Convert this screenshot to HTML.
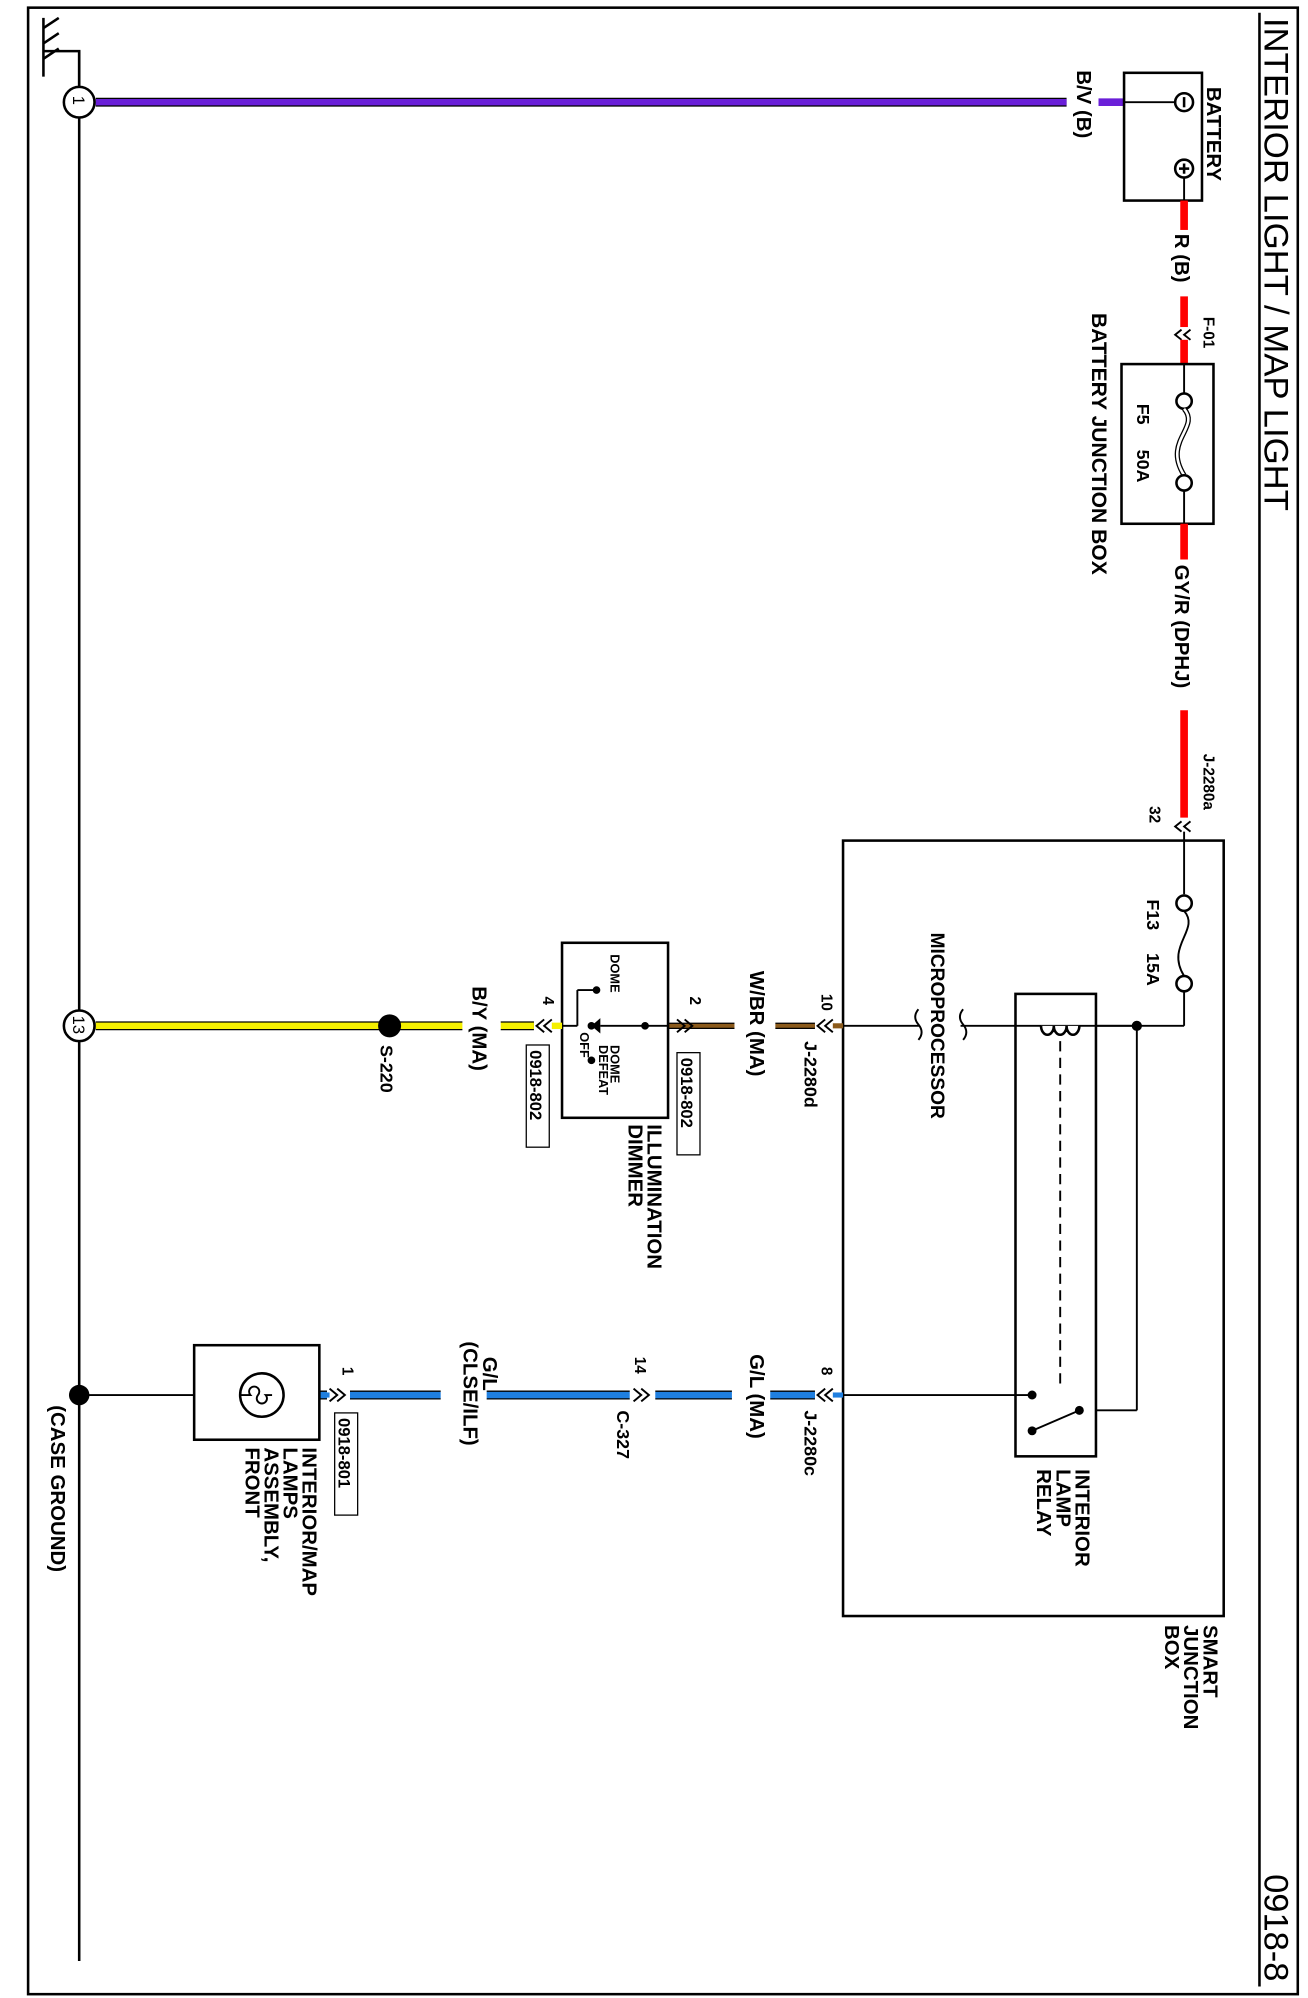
<!DOCTYPE html>
<html><head><meta charset="utf-8"><style>
html,body{margin:0;padding:0;background:#fff;}
svg{display:block;}
text{font-family:"Liberation Sans",Arial,sans-serif;font-weight:bold;fill:#000;}
</style></head><body>
<svg width="1308" height="1998" viewBox="0 0 1024 1564" preserveAspectRatio="none" xmlns="http://www.w3.org/2000/svg">
<rect x="22" y="6" width="994" height="1555" fill="none" stroke="#000" stroke-width="2"/>
<!-- title -->
<text transform="translate(990,14) rotate(90)" font-size="27" style="font-weight:normal" textLength="386" lengthAdjust="spacingAndGlyphs">INTERIOR LIGHT / MAP LIGHT</text>
<line x1="986" y1="10" x2="986" y2="1555" stroke="#000" stroke-width="2"/>
<text transform="translate(990,1467) rotate(90)" font-size="27" style="font-weight:normal">0918-8</text>

<!-- ground bus -->
<line x1="62" y1="40" x2="62" y2="1535" stroke="#000" stroke-width="2"/>
<polyline points="62,68 62,40 34,40" fill="none" stroke="#000" stroke-width="2"/>
<line x1="34" y1="14" x2="34" y2="60" stroke="#000" stroke-width="2"/>
<line x1="34" y1="22" x2="46" y2="14" stroke="#000" stroke-width="2"/>
<line x1="34" y1="34" x2="46" y2="26" stroke="#000" stroke-width="2"/>
<line x1="34" y1="46" x2="46" y2="38" stroke="#000" stroke-width="2"/>

<!-- purple wire -->
<line x1="75" y1="80" x2="835" y2="80" stroke="#000" stroke-width="7"/>
<line x1="75" y1="80" x2="835" y2="80" stroke="#6a1fd8" stroke-width="5"/>
<line x1="860" y1="80" x2="880" y2="80" stroke="#6a1fd8" stroke-width="6"/>
<circle cx="62" cy="80" r="12" fill="#fff" stroke="#000" stroke-width="2"/>
<text transform="translate(57,75) rotate(90)" font-size="13" style="font-weight:normal">1</text>
<text transform="translate(843,55) rotate(90)" font-size="16">B/V (B)</text>

<!-- battery -->
<rect x="880" y="57" width="61" height="100" fill="#fff" stroke="#000" stroke-width="2"/>
<line x1="880" y1="80" x2="920" y2="80" stroke="#000" stroke-width="1.5"/>
<circle cx="927" cy="80" r="7" fill="#fff" stroke="#000" stroke-width="2"/>
<line x1="927" y1="76" x2="927" y2="84" stroke="#000" stroke-width="2"/>
<circle cx="927" cy="132" r="7" fill="#fff" stroke="#000" stroke-width="2"/>
<line x1="923" y1="132" x2="931" y2="132" stroke="#000" stroke-width="2"/>
<line x1="927" y1="128" x2="927" y2="136" stroke="#000" stroke-width="2"/>
<line x1="927" y1="139" x2="927" y2="157" stroke="#000" stroke-width="1.5"/>
<text transform="translate(945,68) rotate(90)" font-size="16">BATTERY</text>

<!-- red wire -->
<line x1="927" y1="157" x2="927" y2="180" stroke="#f00" stroke-width="6"/>
<line x1="927" y1="232" x2="927" y2="256" stroke="#f00" stroke-width="6"/>
<text transform="translate(920,183) rotate(90)" font-size="16">R (B)</text>
<text transform="translate(942,248) rotate(90)" font-size="12">F-01</text>
<path d="M925,258 l-5,4 l5,4 M932,258 l-5,4 l5,4" fill="none" stroke="#000" stroke-width="1.5"/>
<line x1="927" y1="266" x2="927" y2="285" stroke="#f00" stroke-width="6"/>

<!-- battery junction box -->
<rect x="878" y="285" width="72" height="125" fill="#fff" stroke="#000" stroke-width="2"/>
<line x1="927" y1="285" x2="927" y2="308" stroke="#000" stroke-width="1.5"/>
<circle cx="927" cy="314" r="6" fill="#fff" stroke="#000" stroke-width="2"/>
<path d="M927,320 C940,335 910,345 927,372" fill="none" stroke="#000" stroke-width="4"/>
<path d="M927,320 C940,335 910,345 927,372" fill="none" stroke="#fff" stroke-width="2"/>
<circle cx="927" cy="378" r="6" fill="#fff" stroke="#000" stroke-width="2"/>
<line x1="927" y1="384" x2="927" y2="410" stroke="#000" stroke-width="1.5"/>
<text transform="translate(890,316) rotate(90)" font-size="14">F5</text>
<text transform="translate(890,352) rotate(90)" font-size="14">50A</text>
<text transform="translate(855,245) rotate(90)" font-size="16.5">BATTERY JUNCTION BOX</text>

<!-- GY/R wire -->
<line x1="927" y1="410" x2="927" y2="438" stroke="#f00" stroke-width="6"/>
<line x1="927" y1="556" x2="927" y2="640" stroke="#f00" stroke-width="6"/>
<text transform="translate(920,442) rotate(90)" font-size="16">GY/R (DPHJ)</text>
<text transform="translate(942,590) rotate(90)" font-size="12">J-2280a</text>
<text transform="translate(900,631) rotate(90)" font-size="12">32</text>
<path d="M925,643 l-5,4 l5,4 M932,643 l-5,4 l5,4" fill="none" stroke="#000" stroke-width="1.5"/>
<line x1="927" y1="651" x2="927" y2="700" stroke="#000" stroke-width="1.5"/>

<!-- smart junction box -->
<rect x="660" y="658" width="298" height="607" fill="none" stroke="#000" stroke-width="2"/>
<text transform="translate(942,1272) rotate(90)" font-size="16">SMART</text>
<text transform="translate(927,1272) rotate(90)" font-size="16">JUNCTION</text>
<text transform="translate(912,1272) rotate(90)" font-size="16">BOX</text>
<!-- F13 -->
<circle cx="927" cy="707" r="6" fill="#fff" stroke="#000" stroke-width="2"/>
<path d="M927,713 C940,728 912,740 927,764" fill="none" stroke="#000" stroke-width="1.5"/>
<circle cx="927" cy="770" r="6" fill="#fff" stroke="#000" stroke-width="2"/>
<line x1="927" y1="776" x2="927" y2="803" stroke="#000" stroke-width="1.5"/>
<text transform="translate(898,704) rotate(90)" font-size="14">F13</text>
<text transform="translate(898,746) rotate(90)" font-size="14">15A</text>
<line x1="927" y1="803" x2="752" y2="803" stroke="#000" stroke-width="1.5"/>
<line x1="720" y1="803" x2="660" y2="803" stroke="#000" stroke-width="1.5"/>
<circle cx="890" cy="803" r="4" fill="#000"/>
<line x1="890" y1="803" x2="890" y2="1104" stroke="#000" stroke-width="1.5"/>
<line x1="890" y1="1104" x2="845" y2="1104" stroke="#000" stroke-width="1.5"/>
<!-- microprocessor squiggle -->
<path d="M719,790 q-5,6 0,12 q5,6 0,12 M754,790 q-5,6 0,12 q5,6 0,12" fill="none" stroke="#000" stroke-width="1.5"/>
<text transform="translate(729,730) rotate(90)" font-size="15">MICROPROCESSOR</text>
<!-- relay -->
<rect x="795" y="778" width="63" height="362" fill="#fff" stroke="#000" stroke-width="2"/>
<line x1="795" y1="803" x2="890" y2="803" stroke="#000" stroke-width="1.5"/>
<path d="M815,803 a5,7 0 0 0 10,0 a5,7 0 0 0 10,0 a5,7 0 0 0 10,0" fill="#fff" stroke="#000" stroke-width="2"/>
<line x1="830" y1="815" x2="830" y2="1085" stroke="#000" stroke-width="1.5" stroke-dasharray="8,5"/>
<circle cx="808" cy="1092" r="3.5" fill="#000"/>
<circle cx="808" cy="1120" r="3.5" fill="#000"/>
<circle cx="845" cy="1104" r="3.5" fill="#000"/>
<line x1="808" y1="1120" x2="845" y2="1104" stroke="#000" stroke-width="1.5"/>
<text transform="translate(842,1150) rotate(90)" font-size="16">INTERIOR</text>
<text transform="translate(827,1150) rotate(90)" font-size="16">LAMP</text>
<text transform="translate(812,1150) rotate(90)" font-size="16">RELAY</text>

<!-- W/BR wire -->
<path d="M652,798 l-6,5 l6,5 M646,798 l-6,5 l6,5" fill="none" stroke="#000" stroke-width="1.5"/>
<line x1="652" y1="803" x2="660" y2="803" stroke="#8b5a1b" stroke-width="4"/>
<text transform="translate(643,778) rotate(90)" font-size="12">10</text>
<text transform="translate(630,815) rotate(90)" font-size="14">J-2280d</text>
<line x1="523" y1="803" x2="638" y2="803" stroke="#000" stroke-width="5"/>
<line x1="523" y1="803" x2="638" y2="803" stroke="#8b5a1b" stroke-width="3"/>
<rect x="575" y="797" width="32" height="12" fill="#fff"/>
<text transform="translate(587,760) rotate(90)" font-size="16">W/BR (MA)</text>
<path d="M530,798 l6,5 l-6,5 M536,798 l6,5 l-6,5" fill="none" stroke="#000" stroke-width="1.5"/>
<text transform="translate(540,780) rotate(90)" font-size="12">2</text>
<rect x="530" y="824" width="18" height="80" fill="#fff" stroke="#000" stroke-width="1"/>
<text transform="translate(533,828) rotate(90)" font-size="13">0918-802</text>
<!-- dimmer -->
<rect x="440" y="738" width="83" height="137" fill="#fff" stroke="#000" stroke-width="2"/>
<line x1="523" y1="803" x2="505" y2="803" stroke="#000" stroke-width="1.5"/>
<circle cx="505" cy="803" r="3" fill="#000"/>
<circle cx="467" cy="775" r="3" fill="#000"/>
<circle cx="463" cy="803" r="3" fill="#000"/>
<circle cx="463" cy="830" r="3" fill="#000"/>
<line x1="505" y1="803" x2="470" y2="803" stroke="#000" stroke-width="1.5"/>
<path d="M470,797 l-7,6 l7,6" fill="#000"/>
<line x1="467" y1="775" x2="452" y2="775" stroke="#000" stroke-width="1.5"/>
<line x1="452" y1="775" x2="452" y2="803" stroke="#000" stroke-width="1.5"/>
<line x1="452" y1="803" x2="440" y2="803" stroke="#000" stroke-width="1.5"/>
<text transform="translate(478,747) rotate(90)" font-size="10">DOME</text>
<text transform="translate(478,818) rotate(90)" font-size="10">DOME</text>
<text transform="translate(469,818) rotate(90)" font-size="10">DEFEAT</text>
<text transform="translate(454,808) rotate(90)" font-size="10">OFF</text>
<text transform="translate(507,880) rotate(90)" font-size="16">ILLUMINATION</text>
<text transform="translate(492,880) rotate(90)" font-size="16">DIMMER</text>
<!-- B/Y wire -->
<path d="M426,798 l-6,5 l6,5 M432,798 l-6,5 l6,5" fill="none" stroke="#000" stroke-width="1.5"/>
<text transform="translate(425,780) rotate(90)" font-size="12">4</text>
<rect x="412" y="818" width="18" height="80" fill="#fff" stroke="#000" stroke-width="1"/>
<text transform="translate(415,822) rotate(90)" font-size="13">0918-802</text>
<line x1="75" y1="803" x2="418" y2="803" stroke="#000" stroke-width="7"/>
<line x1="75" y1="803" x2="418" y2="803" stroke="#f5f000" stroke-width="5"/>
<rect x="362" y="797" width="30" height="12" fill="#fff"/>
<line x1="432" y1="803" x2="440" y2="803" stroke="#f5f000" stroke-width="5"/>
<text transform="translate(370,772) rotate(90)" font-size="16">B/Y (MA)</text>
<circle cx="305" cy="803" r="9" fill="#000"/>
<text transform="translate(298,818) rotate(90)" font-size="14">S-220</text>
<circle cx="62" cy="803" r="12" fill="#fff" stroke="#000" stroke-width="2"/>
<text transform="translate(57,795) rotate(90)" font-size="13" style="font-weight:normal">13</text>

<!-- G/L wire -->
<path d="M652,1087 l-6,5 l6,5 M646,1087 l-6,5 l6,5" fill="none" stroke="#000" stroke-width="1.5"/>
<line x1="652" y1="1092" x2="660" y2="1092" stroke="#1f7fe0" stroke-width="4"/>
<text transform="translate(643,1070) rotate(90)" font-size="12">8</text>
<text transform="translate(630,1104) rotate(90)" font-size="14">J-2280c</text>
<line x1="660" y1="1092" x2="808" y2="1092" stroke="#000" stroke-width="1.5"/>
<line x1="250" y1="1092" x2="638" y2="1092" stroke="#000" stroke-width="7"/>
<line x1="250" y1="1092" x2="638" y2="1092" stroke="#1f7fe0" stroke-width="5"/>
<rect x="573" y="1086" width="30" height="12" fill="#fff"/>
<rect x="345" y="1086" width="36" height="12" fill="#fff"/>
<text transform="translate(587,1060) rotate(90)" font-size="16">G/L (MA)</text>
<rect x="493" y="1086" width="20" height="12" fill="#fff"/>
<path d="M496,1087 l6,5 l-6,5 M502,1087 l6,5 l-6,5" fill="none" stroke="#000" stroke-width="1.5"/>
<text transform="translate(497,1062) rotate(90)" font-size="12">14</text>
<text transform="translate(483,1104) rotate(90)" font-size="14">C-327</text>
<text transform="translate(378,1062) rotate(90)" font-size="16">G/L</text>
<text transform="translate(363,1050) rotate(90)" font-size="16">(CLSE/ILF)</text>
<rect x="256" y="1086" width="18" height="12" fill="#fff"/>
<line x1="250" y1="1092" x2="258" y2="1092" stroke="#1f7fe0" stroke-width="4"/>
<path d="M258,1087 l6,5 l-6,5 M264,1087 l6,5 l-6,5" fill="none" stroke="#000" stroke-width="1.5"/>
<text transform="translate(268,1070) rotate(90)" font-size="12">1</text>
<rect x="262" y="1106" width="18" height="80" fill="#fff" stroke="#000" stroke-width="1"/>
<text transform="translate(265,1110) rotate(90)" font-size="13">0918-801</text>
<!-- lamp -->
<rect x="152" y="1053" width="98" height="74" fill="#fff" stroke="#000" stroke-width="2"/>
<circle cx="205" cy="1092" r="17" fill="#fff" stroke="#000" stroke-width="2"/>
<path d="M188,1092 h8 a4,4 0 1 1 6,0 a4,4 0 1 0 6,0 h5" fill="none" stroke="#000" stroke-width="1.5"/>
<line x1="152" y1="1092" x2="62" y2="1092" stroke="#000" stroke-width="1.5"/>
<text transform="translate(237,1133) rotate(90)" font-size="16">INTERIOR/MAP</text>
<text transform="translate(222,1133) rotate(90)" font-size="16">LAMPS</text>
<text transform="translate(207,1133) rotate(90)" font-size="16">ASSEMBLY,</text>
<text transform="translate(192,1133) rotate(90)" font-size="16">FRONT</text>
<circle cx="62" cy="1092" r="8" fill="#000"/>
<text transform="translate(40,1100) rotate(90)" font-size="16">(CASE GROUND)</text>
</svg>
</body></html>
